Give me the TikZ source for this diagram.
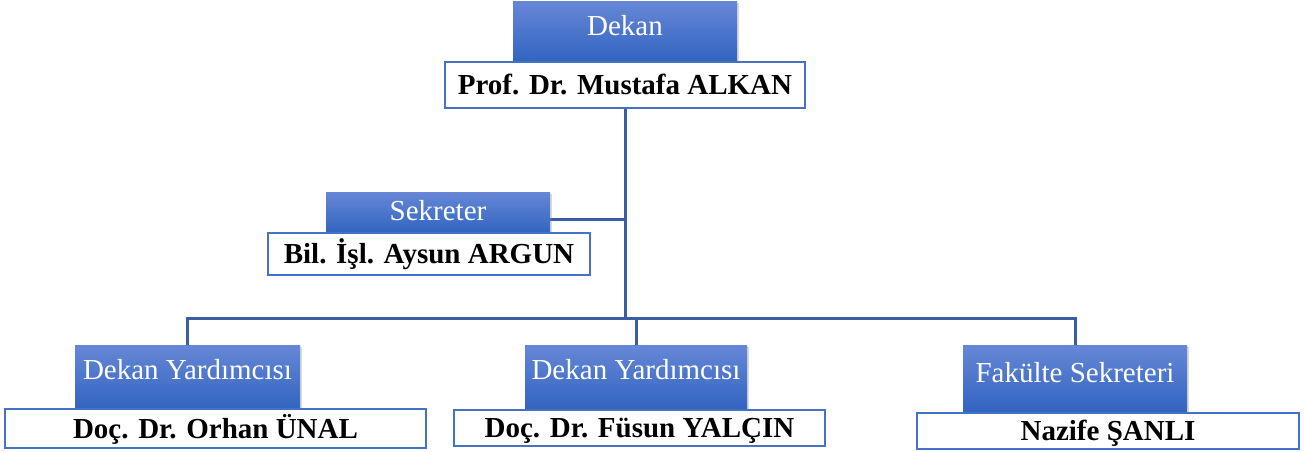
\documentclass[tikz,border=0pt]{standalone}
\usepackage{fontspec}
\setmainfont{Liberation Serif}
\usetikzlibrary{shadows,backgrounds}
\definecolor{boxtop}{HTML}{6687D6}
\definecolor{boxbot}{HTML}{3164C0}
\definecolor{frameblue}{HTML}{4472C4}
\definecolor{linkblue}{HTML}{3A5DA5}
\begin{document}
\begin{tikzpicture}[x=1pt, y=1pt,
    titlebox/.style={rectangle, top color=boxtop, bottom color=boxbot, draw=none,
      text=white, font=\fontsize{29pt}{30pt}\selectfont, inner sep=0pt,
      text height=20pt, text depth=12pt, minimum width=224pt,
      drop shadow={opacity=0.3, shadow xshift=1.5pt, shadow yshift=-1.5pt}},
    namebox/.style={rectangle, fill=white, draw=frameblue, line width=1.5pt,
      font=\bfseries\fontsize{29pt}{30pt}\selectfont, inner sep=0pt,
      text height=19pt, text depth=0pt},
    link/.style={draw=linkblue, line width=3pt}]
  \useasboundingbox (0,0) rectangle (1304,-452);

  % dekan
  \node[titlebox, minimum height=60pt] (dekan) at (625,-32) {Dekan};
  \node[namebox, minimum width=360pt, minimum height=46pt] (dekanname) at (625,-85) {Prof. Dr. Mustafa ALKAN};

  % sekreter
  \node[titlebox, minimum height=41pt, text depth=4pt] (sekreter) at (438,-212.5) {Sekreter};
  \node[namebox, minimum width=322pt, minimum height=42pt] (sekretername) at (429,-254) {Bil. İşl. Aysun ARGUN};

  % alt birimler
  \node[titlebox, minimum width=225pt, minimum height=65pt, text depth=16pt] (yard1) at (187.5,-377.5) {Dekan Yardımcısı};
  \node[namebox, minimum width=421pt, minimum height=39pt] (yard1name) at (215.5,-428.5) {Doç. Dr. Orhan ÜNAL};

  \node[titlebox, minimum width=222pt, minimum height=65pt, text depth=16pt] (yard2) at (636,-377.5) {Dekan Yardımcısı};
  \node[namebox, minimum width=371pt, minimum height=36pt] (yard2name) at (639.5,-428) {Doç. Dr. Füsun YALÇIN};

  \node[titlebox, minimum height=67pt, text depth=12pt] (fakulte) at (1075,-378.5) {Fakülte Sekreteri};
  \node[namebox, minimum width=382pt, minimum height=36pt] (fakultename) at (1108,-431) {Nazife ŞANLI};

  % baglantilar
  \coordinate (bus) at (625,-318);
  \coordinate (sekjoint) at ([yshift=-6.5pt]sekreter.east);
  \begin{scope}[on background layer]
    \draw[link] (dekanname.south) -- (bus);
    \draw[link] (sekjoint) -- (sekjoint -| dekanname.south);
    \draw[link, line cap=rect] (yard1.north |- bus) -- (fakulte.north |- bus);
    \draw[link] (yard1.north |- bus) -- (yard1.north);
    \draw[link] (yard2.north |- bus) -- (yard2.north);
    \draw[link] (fakulte.north |- bus) -- (fakulte.north);
  \end{scope}
\end{tikzpicture}
\end{document}
